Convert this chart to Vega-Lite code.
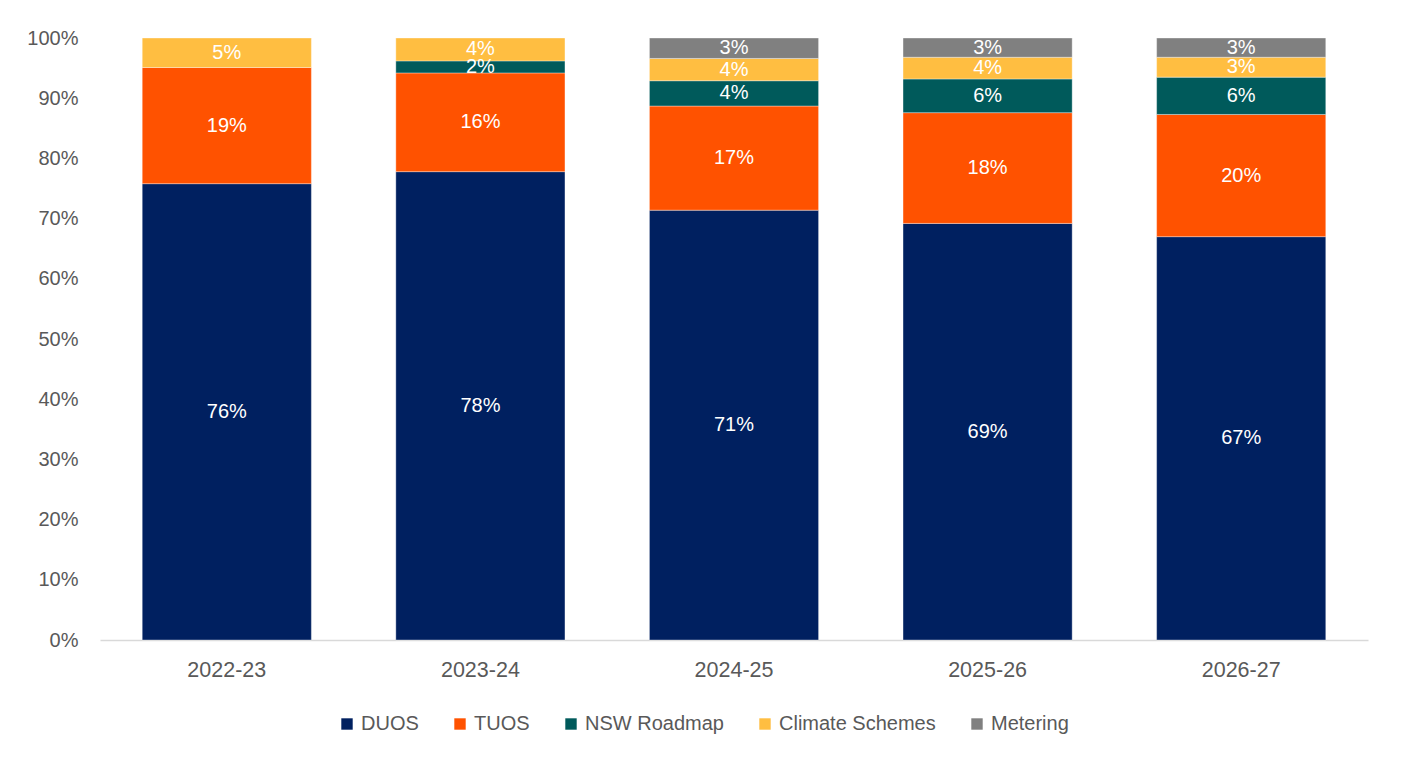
{
  "$schema": "https://vega.github.io/schema/vega-lite/v6.json",
  "autosize": {"type": "none"},
  "width": 1268,
  "height": 602,
  "padding": {"left": 100, "top": 38, "right": 34, "bottom": 118},
  "background": "#ffffff",
  "config": {
    "view": {"stroke": null},
    "font": "Liberation Sans"
  },
  "data": {
    "values": [
      {"year": "2022-23", "category": "DUOS", "order": 1, "value": 0.758},
      {"year": "2022-23", "category": "TUOS", "order": 2, "value": 0.193},
      {"year": "2022-23", "category": "Climate Schemes", "order": 4, "value": 0.049},
      {"year": "2023-24", "category": "DUOS", "order": 1, "value": 0.778},
      {"year": "2023-24", "category": "TUOS", "order": 2, "value": 0.164},
      {"year": "2023-24", "category": "NSW Roadmap", "order": 3, "value": 0.020},
      {"year": "2023-24", "category": "Climate Schemes", "order": 4, "value": 0.038},
      {"year": "2024-25", "category": "DUOS", "order": 1, "value": 0.714},
      {"year": "2024-25", "category": "TUOS", "order": 2, "value": 0.173},
      {"year": "2024-25", "category": "NSW Roadmap", "order": 3, "value": 0.042},
      {"year": "2024-25", "category": "Climate Schemes", "order": 4, "value": 0.037},
      {"year": "2024-25", "category": "Metering", "order": 5, "value": 0.034},
      {"year": "2025-26", "category": "DUOS", "order": 1, "value": 0.692},
      {"year": "2025-26", "category": "TUOS", "order": 2, "value": 0.184},
      {"year": "2025-26", "category": "NSW Roadmap", "order": 3, "value": 0.056},
      {"year": "2025-26", "category": "Climate Schemes", "order": 4, "value": 0.036},
      {"year": "2025-26", "category": "Metering", "order": 5, "value": 0.032},
      {"year": "2026-27", "category": "DUOS", "order": 1, "value": 0.670},
      {"year": "2026-27", "category": "TUOS", "order": 2, "value": 0.203},
      {"year": "2026-27", "category": "NSW Roadmap", "order": 3, "value": 0.062},
      {"year": "2026-27", "category": "Climate Schemes", "order": 4, "value": 0.033},
      {"year": "2026-27", "category": "Metering", "order": 5, "value": 0.032}
    ]
  },
  "encoding": {
    "x": {
      "field": "year",
      "type": "nominal",
      "title": null,
      "scale": {"paddingInner": 0.333, "paddingOuter": 0.1665},
      "axis": {
        "labelAngle": 0,
        "labelFontSize": 21.5,
        "labelColor": "#595959",
        "labelPadding": 19,
        "ticks": false,
        "domainColor": "#d9d9d9",
        "domainWidth": 1.5,
        "grid": false
      }
    },
    "order": {"field": "order", "type": "quantitative"}
  },
  "layer": [
    {
      "mark": {"type": "bar", "stroke": "#ffffff", "strokeWidth": 0.6, "strokeOpacity": 0.6},
      "encoding": {
        "y": {
          "field": "value",
          "type": "quantitative",
          "stack": "zero",
          "title": null,
          "scale": {"domain": [0, 1], "nice": false},
          "axis": {
            "format": ".0%",
            "values": [0, 0.1, 0.2, 0.3, 0.4, 0.5, 0.6, 0.7, 0.8, 0.9, 1],
            "labelFontSize": 20,
            "labelColor": "#595959",
            "labelPadding": 22,
            "ticks": false,
            "domain": false,
            "grid": false
          }
        },
        "color": {
          "field": "category",
          "type": "nominal",
          "scale": {
            "domain": ["DUOS", "TUOS", "NSW Roadmap", "Climate Schemes", "Metering"],
            "range": ["#002060", "#FF5200", "#005A5B", "#FFBE41", "#808080"]
          },
          "legend": {
            "title": null,
            "orient": "none",
            "direction": "horizontal",
            "legendX": 237,
            "legendY": 676,
            "symbolType": "square",
            "symbolSize": 130,
            "symbolStrokeWidth": 0,
            "symbolOpacity": 1,
            "labelFontSize": 20,
            "labelColor": "#595959",
            "labelOffset": 4,
            "columnPadding": 31
          }
        }
      }
    },
    {
      "mark": {"type": "text", "color": "#ffffff", "fontSize": 20, "baseline": "middle"},
      "encoding": {
        "y": {"field": "value", "type": "quantitative", "stack": "zero", "bandPosition": 0.5},
        "detail": {"field": "category", "type": "nominal"},
        "text": {"field": "value", "type": "quantitative", "format": ".0%"}
      }
    }
  ]
}
